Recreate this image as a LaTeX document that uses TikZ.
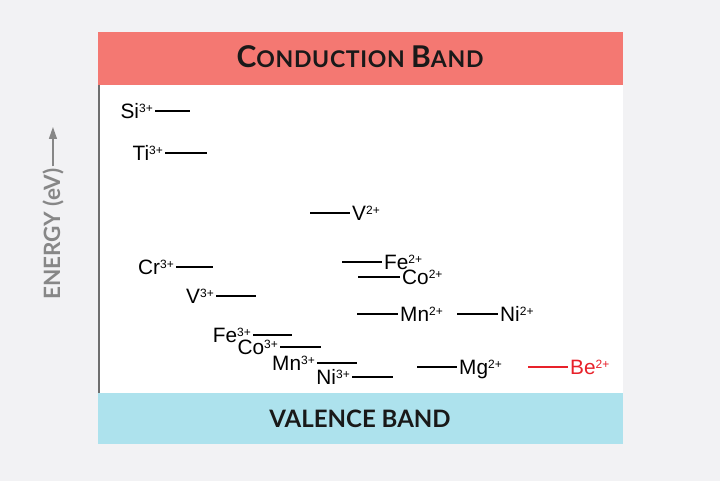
\documentclass[tikz,border=0pt]{standalone}
\usepackage{fontspec}
\setmainfont{Liberation Sans}
\newfontfamily\bandfont{Lato}
\newfontfamily\bandfontsp{Lato}[LetterSpace=3]
\usetikzlibrary{arrows.meta,calc}
\definecolor{bgc}{HTML}{F2F2F4}
\definecolor{cband}{HTML}{F47872}
\definecolor{vband}{HTML}{ADE2ED}
\definecolor{axisgray}{HTML}{878787}
\definecolor{axisline}{HTML}{6E6E6E}
\definecolor{beRed}{HTML}{E8212A}
\newcommand\ionlab[2]{#1\raisebox{6.2pt}{\fontsize{12}{12}\selectfont #2}}
% level with label on the left: name, x1, x2, y, element, charge, colour
\newcommand\levL[7]{%
  \coordinate (#1a) at (#2,#4);
  \coordinate (#1b) at (#3,#4);
  \draw[lvl,#7] (#1a) -- (#1b);
  \node[ion,text=#7,anchor=base east] (#1) at ($(#1a)+(-2,7.5)$) {\ionlab{#5}{#6}};}
% level with label on the right
\newcommand\levR[7]{%
  \coordinate (#1a) at (#2,#4);
  \coordinate (#1b) at (#3,#4);
  \draw[lvl,#7] (#1a) -- (#1b);
  \node[ion,text=#7,anchor=base west] (#1) at ($(#1b)+(2,7.5)$) {\ionlab{#5}{#6}};}
\begin{document}
\begin{tikzpicture}[x=1pt,y=-1pt,
  lvl/.style={line width=1.4pt},
  ion/.style={inner sep=0pt,text height=13.5pt,text depth=0pt,font=\fontsize{20.8}{20.8}\selectfont},
  bandtitle/.style={inner sep=0pt,anchor=base,text=black!90}]
\useasboundingbox (0,0) rectangle (720,481);
\fill[bgc] (0,0) rectangle (720,481);
\fill[white] (98,32) rectangle (623,444);
\fill[cband] (98,32) rectangle (623,85);
\fill[vband] (98,393) rectangle (623,444);
\draw[axisline,line width=1.5pt] (98.75,85) -- (98.75,393);

\node[bandtitle] (cb) at (360,67.5) {\bandfontsp\bfseries\fontsize{30}{30}\selectfont C\fontsize{23}{23}\selectfont ONDUCTION \fontsize{30}{30}\selectfont B\fontsize{23}{23}\selectfont AND};
\node[bandtitle] (vb) at (360,427.5) {\bandfont\bfseries\fontsize{24}{24}\selectfont VALENCE BAND};

\node[rotate=90,anchor=base west,text=axisgray,inner sep=2pt,
  font=\bandfont\bfseries\fontsize{22.5}{22.5}\selectfont] (en) at (60,302) {ENERGY (eV)};
\coordinate (entip) at (en.east |- 0,127);
\draw[axisgray,line width=1.3pt,-{Triangle[length=12pt,width=8pt]}] (en.east) -- (entip);

\levL{si}{155}{190}{111}{Si}{3+}{black}
\levL{ti}{165}{207}{153}{Ti}{3+}{black}
\levL{cr}{176}{213}{267}{Cr}{3+}{black}
\levL{vt}{216}{256}{296}{V}{3+}{black}
\levL{fet}{253}{292}{335}{Fe}{3+}{black}
\levL{cot}{280}{321}{347}{Co}{3+}{black}
\levL{mnt}{317}{357}{363}{Mn}{3+}{black}
\levL{nit}{352}{393}{377}{Ni}{3+}{black}

\levR{vd}{310}{350}{213}{V}{2+}{black}
\levR{fed}{342}{382}{262}{Fe}{2+}{black}
\levR{cod}{358}{400}{277}{Co}{2+}{black}
\levR{mnd}{357}{398}{314}{Mn}{2+}{black}
\levR{nid}{457}{498}{314}{Ni}{2+}{black}
\levR{mg}{417}{457}{367}{Mg}{2+}{black}
\levR{be}{528}{568}{367}{Be}{2+}{beRed}
\end{tikzpicture}
\end{document}
